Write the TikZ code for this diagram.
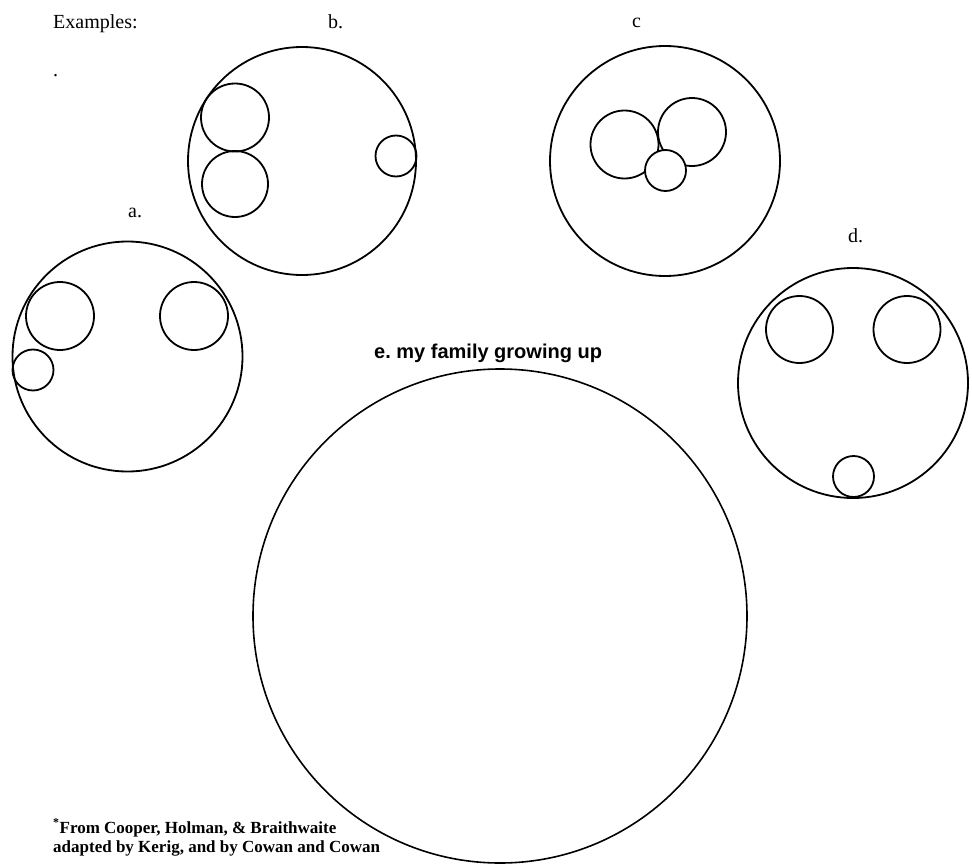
\documentclass[tikz,border=0pt]{standalone}
\usepackage{fontspec}
\setmainfont{Liberation Serif}
\newfontfamily\headfont{Liberation Sans}
\frenchspacing
\tikzset{
  ring/.style={line width=1.8pt},
  lbl/.style={anchor=base west, inner sep=0pt, font=\fontsize{20}{24}\selectfont},
}
\begin{document}
\begin{tikzpicture}[x=1pt,y=-1pt]
    \useasboundingbox (0,0) rectangle (972,867);

    % Heading
    \node[lbl] (examples) at (53,29) {Examples:};
    \node[lbl] (dot) at (53,77) {.};

    % b.
    \node[lbl] (lblb) at (328,29) {b.};
    \draw[ring] (302,161) circle (114);
    \draw[ring] (235,117.5) circle (34);
    \draw[ring] (235,184) circle (33);
    \draw[ring] (396,156) circle (20.5);

    % c
    \node[lbl] (lblc) at (632,28) {c};
    \draw[ring] (665,161) circle (115);
    \draw[ring] (624.5,144.5) circle (34);
    \draw[ring] (692,132) circle (34);
    \draw[ring, fill=white] (665.5,170.5) circle (20.5);

    % a.
    \node[lbl] (lbla) at (128,217) {a.};
    \draw[ring] (127.5,356.5) circle (115);
    \draw[ring] (60,316) circle (34);
    \draw[ring] (194,316) circle (34);
    \draw[ring] (33,370) circle (20.5);

    % d.
    \node[lbl] (lbld) at (848,242) {d.};
    \draw[ring] (853,383) circle (115);
    \draw[ring] (799.5,329.5) circle (33.5);
    \draw[ring] (907,329.5) circle (33.5);
    \draw[ring] (853.5,476.5) circle (20.5);

    % e. (empty, to fill in)
    \node[lbl, font=\headfont\bfseries\fontsize{20}{24}\selectfont] (lble) at (374,358) {e. my family growing up};
    \draw[ring, line width=1.6pt] (500,616) circle (247);

    % Source
    \node[lbl, font=\bfseries\fontsize{17}{20}\selectfont] (src1) at (53,833) {\textsuperscript{*}From Cooper, Holman, \& Braithwaite};
    \node[lbl, font=\bfseries\fontsize{17}{20}\selectfont] (src2) at (53,852) {adapted by Kerig, and by Cowan and Cowan};
\end{tikzpicture}
\end{document}
